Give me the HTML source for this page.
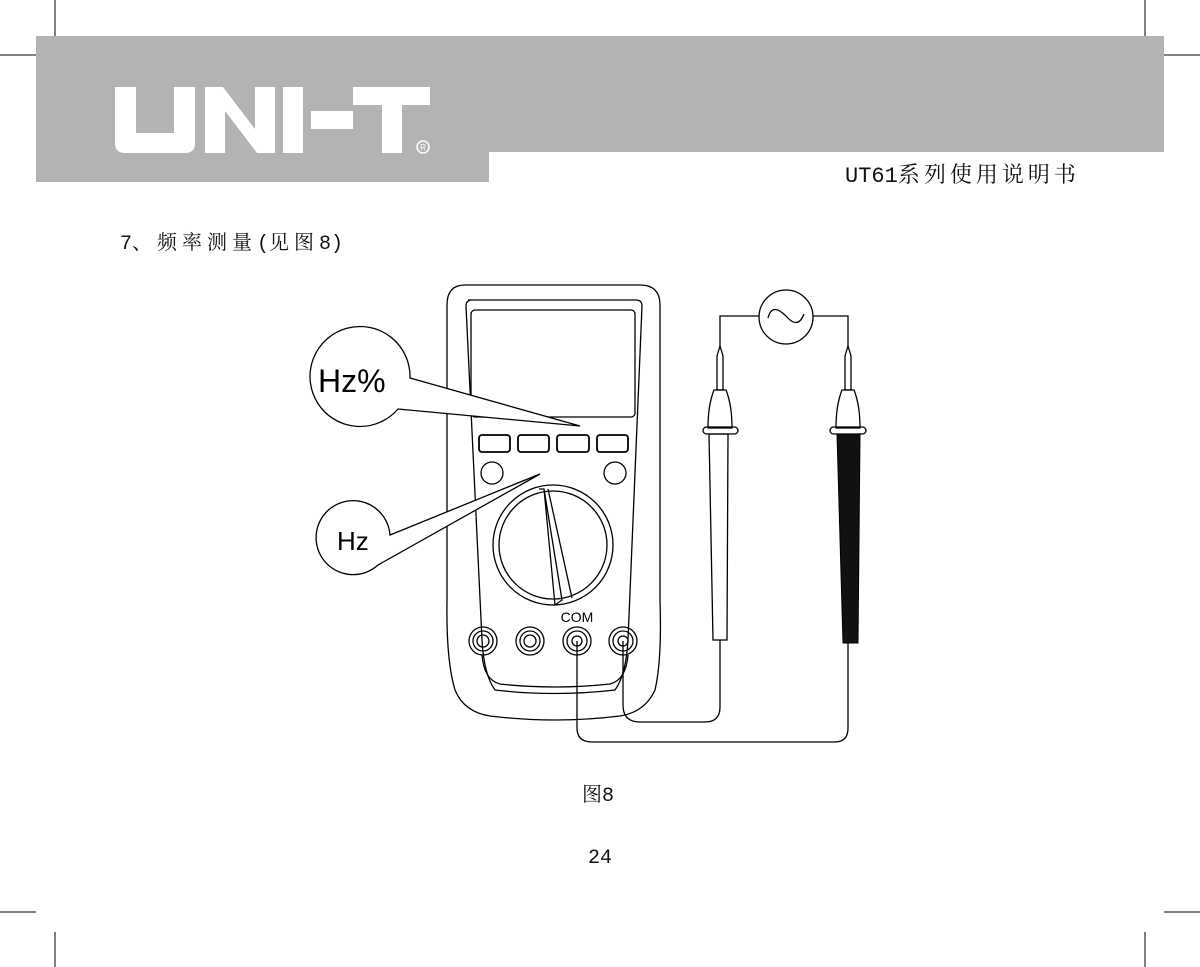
<!DOCTYPE html>
<html><head><meta charset="utf-8"><style>
body{margin:0;width:1200px;height:967px;background:#fff;overflow:hidden;position:relative;font-family:"Liberation Serif","Noto Serif CJK SC",serif}
.t{position:absolute;color:#111;white-space:nowrap}
.m{font-family:"Liberation Mono",monospace}
</style></head><body>
<svg width="1200" height="967" style="position:absolute;left:0;top:0">
<g stroke="#000" stroke-width="1">
<line x1="55" y1="0" x2="55" y2="36"/><line x1="1145" y1="0" x2="1145" y2="36"/>
<line x1="0" y1="55" x2="36" y2="55"/><line x1="1164" y1="55" x2="1200" y2="55"/>
<line x1="0" y1="912" x2="36" y2="912"/><line x1="1164" y1="912" x2="1200" y2="912"/>
<line x1="55" y1="932" x2="55" y2="967"/><line x1="1145" y1="932" x2="1145" y2="967"/>
</g>
<path d="M36 36H1164V152H489V182H36Z" fill="#b3b3b3"/>
<g fill="#fff">
<path d="M115 87h21v46h38v-46h21v56q0 10-10 10h-60q-10 0-10-10z"/>
<path d="M205 153v-66h18l32 42v-42h20v66h-18l-32-42v42z"/>
<rect x="283" y="87" width="20" height="66"/>
<rect x="311" y="111" width="42" height="18"/>
<path d="M353 87h77v18h-28v48h-20v-48h-29z"/>
</g>
<circle cx="423" cy="147" r="6" fill="none" stroke="#fff" stroke-width="1.5"/>
<text x="423" y="150" font-size="8" fill="#fff" text-anchor="middle" font-family="Liberation Sans">R</text>
<g fill="none" stroke="#000" stroke-width="1.3">
<path d="M465 285H640Q660 285 660 305V600Q662 660 655 690Q645 712 620 716Q555 724 490 716Q464 712 455 690Q446 660 447 600V305Q447 285 465 285Z"/>
<path d="M468 300H636Q642 300 642 306L628 640Q626 675 615 690Q555 697 495 690Q484 675 482 640L466 306Q466 300 472 300Z"/>
<path d="M482 655Q484 680 500 684Q555 690 610 684Q626 680 628 655" />
<rect x="471" y="310" width="164" height="107" rx="4"/>
<rect x="479" y="435" width="31" height="17" rx="3" stroke-width="1.8"/>
<rect x="518" y="435" width="31" height="17" rx="3" stroke-width="1.8"/>
<rect x="557" y="435" width="32" height="17" rx="3" stroke-width="1.8"/>
<rect x="597" y="435" width="31" height="17" rx="3" stroke-width="1.8"/>
<circle cx="492" cy="473" r="11"/><circle cx="615" cy="473" r="11"/>
<circle cx="553" cy="545" r="60"/><circle cx="553" cy="545" r="54"/>
<path d="M539 489L544 489L555 605L562 600L544 489 M548 489L572 598"/>
<circle cx="483" cy="641" r="14"/><circle cx="483" cy="641" r="10"/><circle cx="483" cy="641" r="6"/>
<circle cx="530" cy="641" r="14"/><circle cx="530" cy="641" r="10"/><circle cx="530" cy="641" r="6"/>
<circle cx="577" cy="641" r="14"/><circle cx="577" cy="641" r="10"/><circle cx="577" cy="641" r="5"/>
<circle cx="623" cy="641" r="14"/><circle cx="623" cy="641" r="10"/><circle cx="623" cy="641" r="5"/>
<path d="M623 641V705Q623 722 640 722H705Q720 722 720 707V640"/>
<path d="M577 641V728Q577 742 592 742H835Q848 742 848 728V643"/>
<path d="M410 378L580 426L398 409A50 50 0 1 1 410 378Z" fill="#fff"/>
<path d="M390 535L540 474L378 565A37 37 0 1 1 390 535Z" fill="#fff"/>
<circle cx="786" cy="317" r="27"/>
<path d="M768 318Q772 302 786 316Q798 330 804 314"/>
<path d="M759 316H720V348 M813 316H848V348"/>
<path d="M717 356L720 346L723 356V390H717Z M845 356L848 346L851 356V390H845Z"/>
<path d="M714 390Q708 405 708 428H732Q732 405 726 390Z"/>
<path d="M842 390Q836 405 836 428H860Q860 405 854 390Z"/>
<rect x="703" y="427" width="35" height="7" rx="3.5"/>
<rect x="830" y="427" width="36" height="7" rx="3.5"/>
<path d="M709 434L713 640H727L728 434Z"/>
</g>
<path d="M837 434L843 643H858L860 434Z" fill="#111" stroke="#000"/>
<text x="577" y="622" font-family="Liberation Sans" font-size="14" text-anchor="middle">COM</text>
<text x="318" y="392" font-family="Liberation Sans" font-size="32" font-weight="300" fill="#000">Hz%</text>
<text x="337" y="550" font-family="Liberation Sans" font-size="26" fill="#000">Hz</text>
</svg>
<div class="t" style="left:845px;top:158px;font-size:22px;letter-spacing:4px"><span class="m" style="letter-spacing:0">UT61</span>系列使用说明书</div>
<div class="t" style="left:120px;top:226px;font-size:20px;letter-spacing:5px"><span class="m" style="letter-spacing:0">7</span>、频率测量<span class="m" style="letter-spacing:0">(</span>见图<span class="m" style="letter-spacing:0">8)</span></div>
<div class="t" style="left:582px;top:778px;font-size:20px">图<span class="m">8</span></div>
<div class="t m" style="left:588px;top:847px;font-size:20px">24</div>
</body></html>
